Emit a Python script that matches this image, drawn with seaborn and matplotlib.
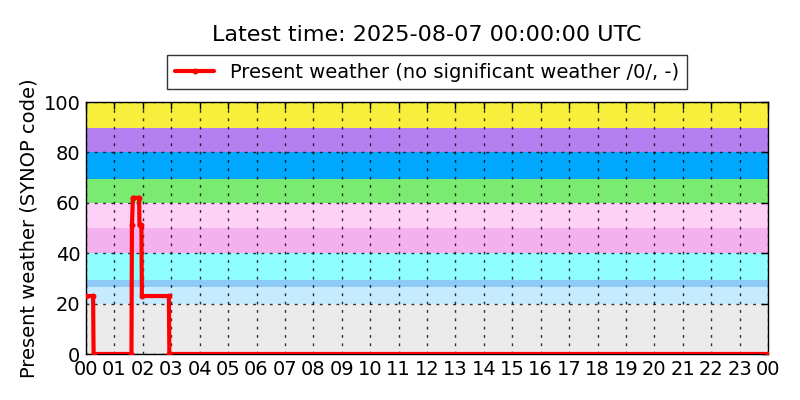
import pandas as pd
import seaborn as sns
import matplotlib.pyplot as plt
import matplotlib.dates as mdates
import numpy as np

# Data: minutes after 2025-08-06 00:00 UTC and SYNOP present weather code
minutes = [0, 15, 16, 96, 97, 99, 112, 113, 117, 118, 175, 176, 1440]
codes = [23, 23, 0, 0, 51, 62, 62, 51, 51, 23, 23, 0, 0]

# Background bands (code ranges and colours)
band_lo = [0, 20, 26.5, 29.5, 40, 50, 60, 69.5, 80, 89.5]
band_hi = [20, 26.5, 29.5, 40, 50, 60, 69.5, 80, 89.5, 100]
band_col = ['#ebebeb', '#c6eafe', '#8ecaf6', '#8efefe', '#f5b0ee',
            '#fdd0f8', '#7aeb70', '#00a8ff', '#b47fee', '#f7ef3c']

start = pd.Timestamp('2025-08-06 00:00')
df = pd.DataFrame({'time': start + pd.to_timedelta(minutes, unit='m'),
                   'code': codes})

sns.set_style('white')
plt.rcParams['font.family'] = ['DejaVu Sans']
plt.rcParams['text.color'] = 'black'
plt.rcParams['axes.labelcolor'] = 'black'

fig, ax = plt.subplots(figsize=(8, 4), dpi=100)
fig.subplots_adjust(left=0.1075, right=0.96, top=0.745, bottom=0.115)

for lo, hi, c in zip(band_lo, band_hi, band_col):
    ax.axhspan(lo, hi, color=c, zorder=0, lw=0)

sns.lineplot(data=df, x='time', y='code', ax=ax, color='red', lw=3,
             marker='.', markersize=7, markeredgecolor='red',
             label='Present weather (no significant weather /0/, -)',
             zorder=3, legend=False)

ax.set_xlim(start, start + pd.Timedelta(hours=24))
ax.set_ylim(0, 100)
ax.set_yticks(range(0, 101, 20))
ax.xaxis.set_major_locator(mdates.HourLocator(interval=1))
ax.xaxis.set_major_formatter(mdates.DateFormatter('%H'))
ax.tick_params(direction='in', length=5, width=1, labelsize=14, pad=4,
               top=True, right=True, colors='black')
ax.grid(True, color='black', linestyle=(0, (2, 4)), linewidth=1,
        alpha=0.8, zorder=2)
ax.set_axisbelow(False)
for s in ax.spines.values():
    s.set_color('black')
    s.set_linewidth(1)

ax.set_xlabel('')
ax.set_ylabel('Present weather (SYNOP code)', fontsize=14)
ax.set_title('Latest time: 2025-08-07 00:00:00 UTC', fontsize=16, pad=44)

leg = ax.legend(loc='lower center', bbox_to_anchor=(0.5, 1.0), fontsize=14,
                frameon=True, fancybox=False, numpoints=1, borderaxespad=0.65)
leg.get_frame().set_edgecolor('black')
leg.get_frame().set_linewidth(1)

fig.savefig('out.png', dpi=100)
